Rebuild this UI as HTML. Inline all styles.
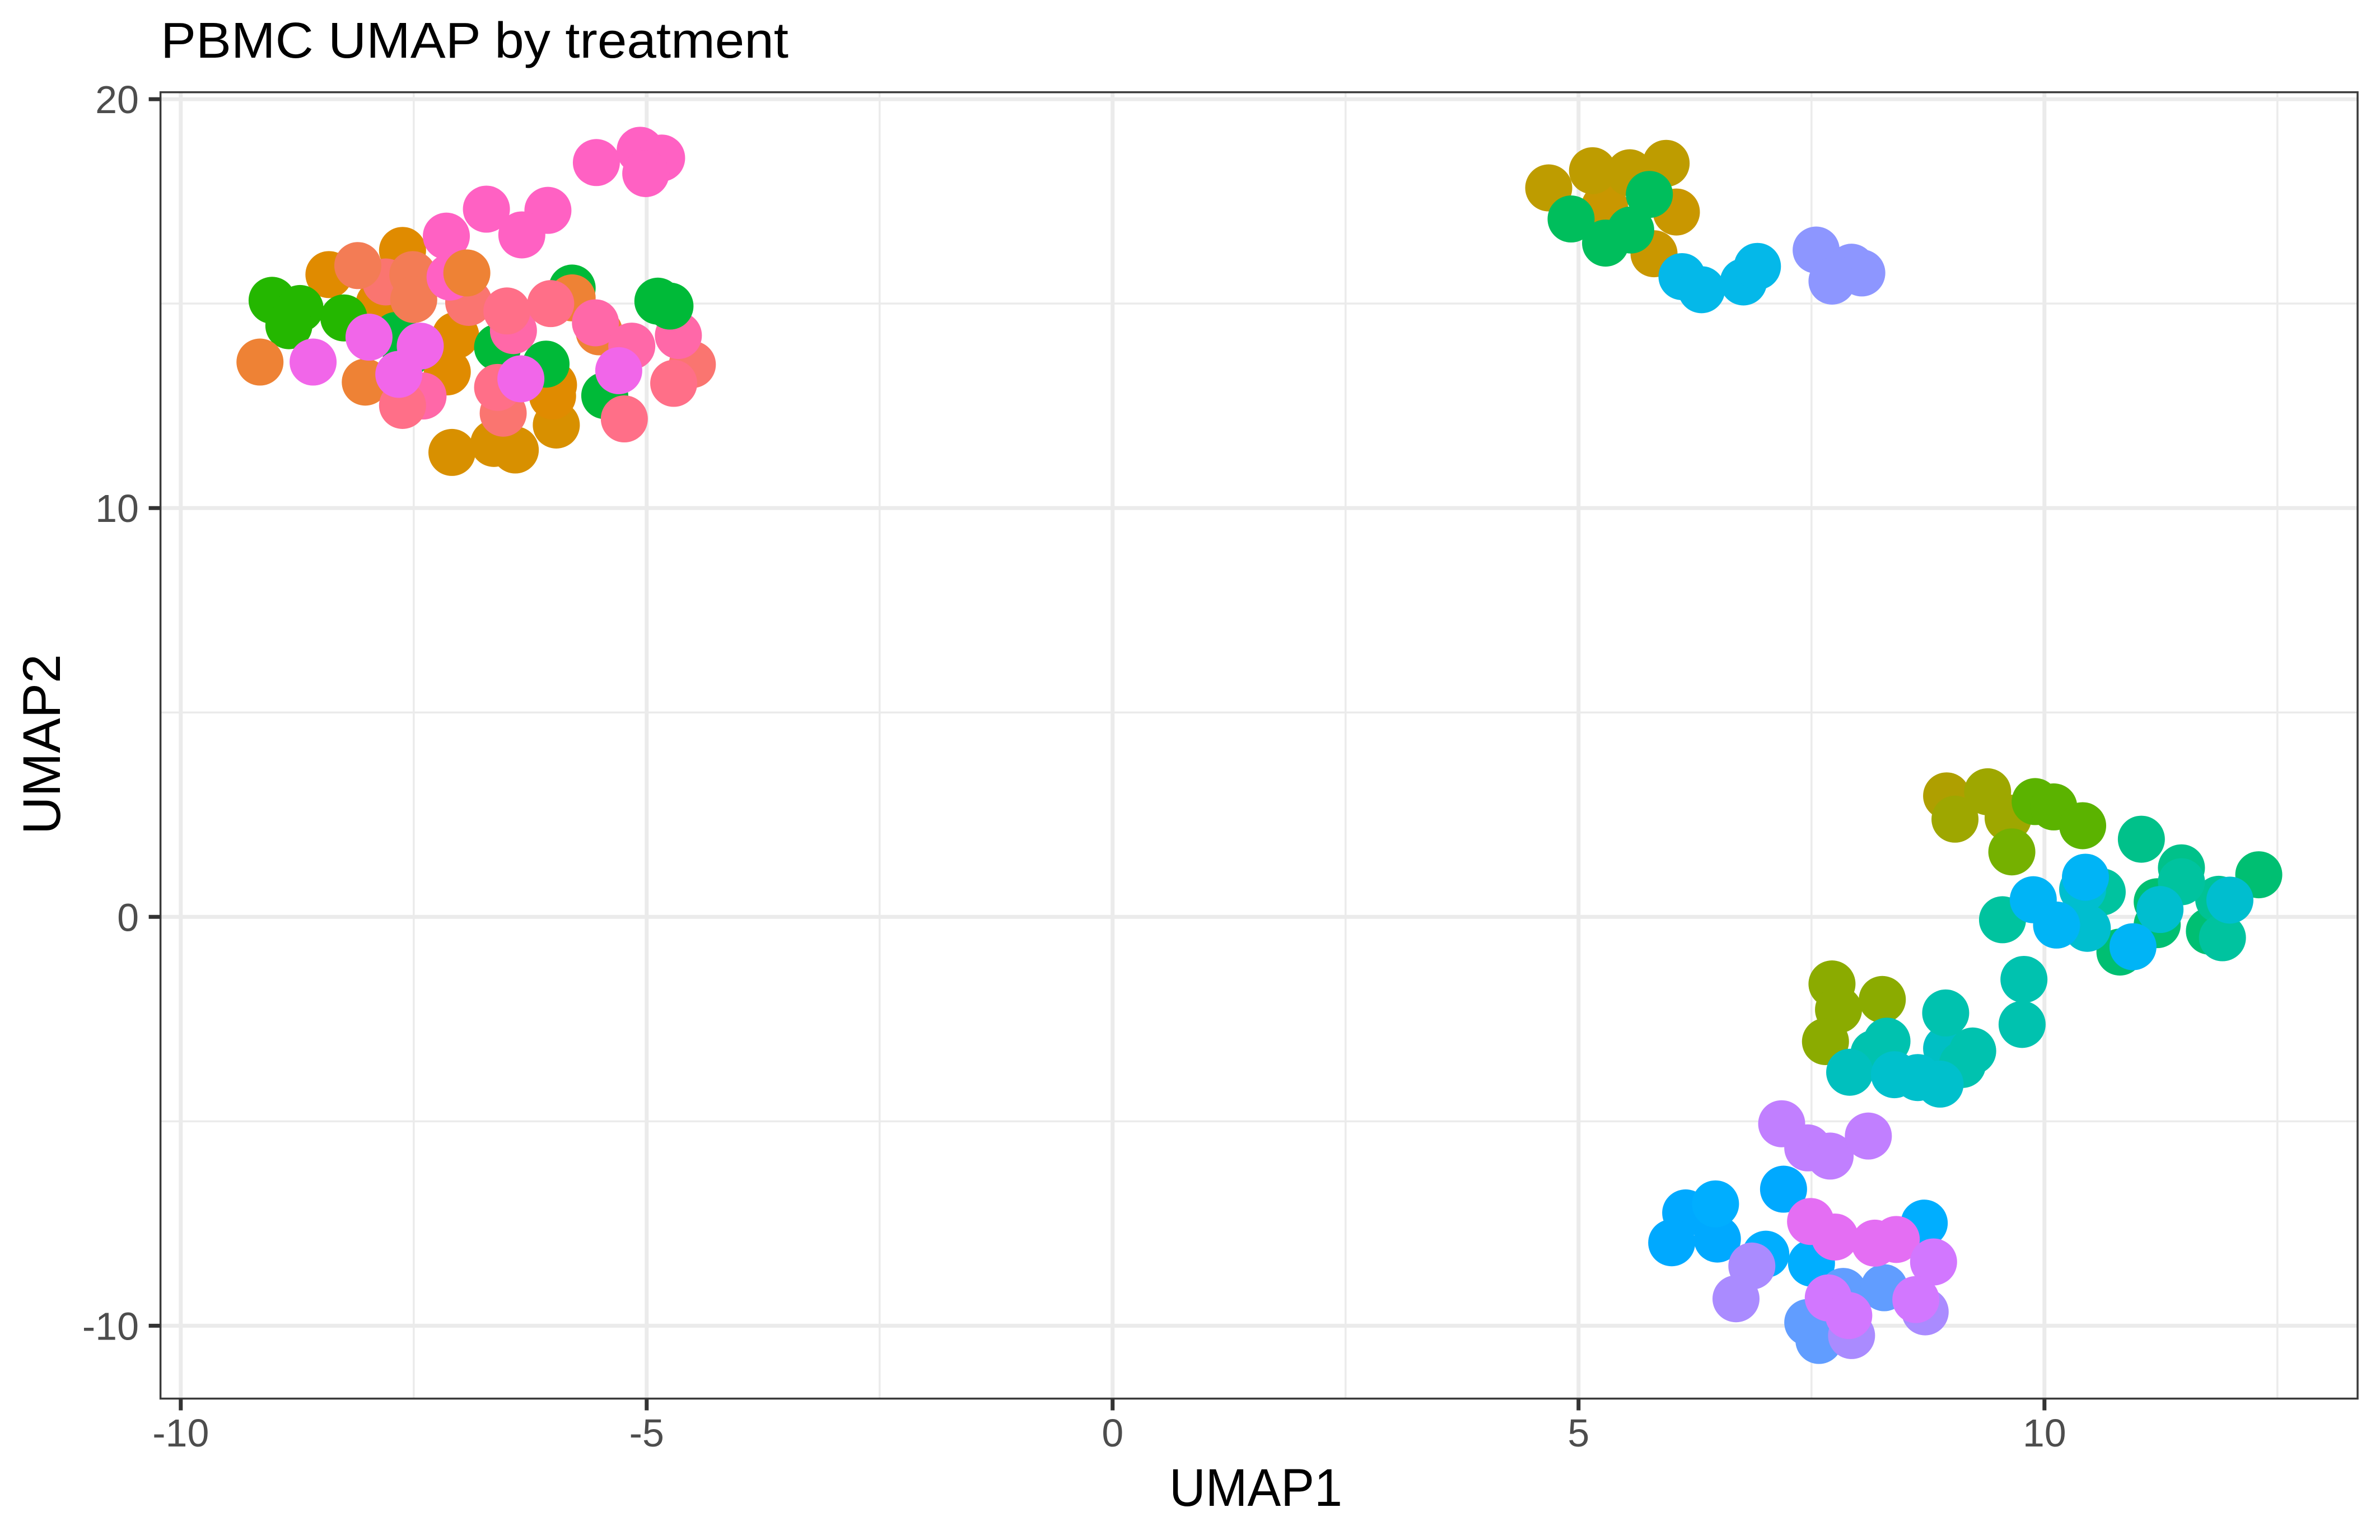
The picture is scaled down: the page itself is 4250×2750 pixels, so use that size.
<!DOCTYPE html>
<html lang="en">
<head>
<meta charset="utf-8">
<title>PBMC UMAP by treatment</title>
<style>
html,body{margin:0;padding:0;background:#fff;}
svg{display:block;font-family:"Liberation Sans",sans-serif;}
</style>
</head>
<body>
<svg id="chart" xmlns="http://www.w3.org/2000/svg" width="4250" height="2750" viewBox="0 0 4250 2750">
  <rect x="0" y="0" width="4250" height="2750" fill="#ffffff"/>
  <text x="287" y="103" font-size="90" fill="#000000" textLength="1121" lengthAdjust="spacingAndGlyphs">PBMC UMAP by treatment</text>
  <g id="grid"></g>
  <g id="points"></g>
  <rect x="286.6" y="164.7" width="3923.4" height="2332.8" fill="none" stroke="#3a3a3a" stroke-width="3.5"/>
  <g id="ticks"></g>
  <text x="2242.5" y="2689" font-size="95" fill="#000000" text-anchor="middle" textLength="309" lengthAdjust="spacingAndGlyphs">UMAP1</text>
  <text transform="translate(107,1329) rotate(-90)" font-size="95" fill="#000000" text-anchor="middle" textLength="322" lengthAdjust="spacingAndGlyphs">UMAP2</text>
</svg>
<script>
const xTickValues = [-10, -5, 0, 5, 10];
const xTickLabels = ["-10", "-5", "0", "5", "10"];
const xMinorValues = [-7.5, -2.5, 2.5, 7.5, 12.5];
const yTickValues = [-10, 0, 10, 20];
const yTickLabels = ["-10", "0", "10", "20"];
const yMinorValues = [-5, 5, 15];

const clusterColors = [
  "#D89000", "#E08B00", "#24B700", "#00BA38", "#FA7570", "#F37C55", "#EE8235", "#FF61C3", "#EE8235",
  "#FF68A8", "#00BA38", "#FF6F88", "#F166E9",
  "#C99700", "#BE9C00", "#00BE5C", "#04B8E9", "#8D96FF",
  "#AF9F00", "#9EA700", "#75B100", "#5BB300", "#00BF72", "#00C18A", "#00C295", "#00C39F", "#00BECF", "#00B4F6",
  "#8BAB00", "#00BFC4", "#00C2AF", "#00C0BE", "#00C0CC",
  "#00A9FF", "#00AEFF", "#619DFF", "#AA8BFF", "#C17FFF", "#E46EF3", "#D277FF"
];

const umap1 = [
  [-7.09, -6.64, -6.41, -5.97],
  [-8.41, -7.62, -7.87, -7.05, -7.14, -6.00, -6.01],
  [-9.02, -8.72, -8.84, -8.25],
  [-7.69, -7.58, -6.60, -5.80, -6.08, -5.45],
  [-7.80, -6.91, -6.54, -4.51],
  [-8.10, -7.51, -7.50],
  [-9.15, -8.02, -5.80, -5.51],
  [-5.54, -5.07, -4.84, -5.01, -6.72, -6.06, -6.34, -7.15, -7.11],
  [-6.93],
  [-7.40, -6.43, -5.55, -5.16, -4.66],
  [-4.88, -4.75],
  [-6.50, -6.03, -4.71, -5.24, -7.62, -6.60],
  [-8.58, -7.98, -7.43, -7.66, -6.35, -5.30],
  [5.28, 6.05, 5.81],
  [4.68, 5.15, 5.55, 5.94],
  [4.92, 5.29, 5.56, 5.76],
  [6.11, 6.32, 6.77, 6.92],
  [7.55, 7.93, 8.04, 7.72],
  [8.95],
  [9.39, 9.61, 9.04],
  [9.65],
  [9.90, 10.10, 10.41],
  [12.30, 11.21, 11.21, 11.77, 10.81],
  [11.04, 11.47],
  [11.87],
  [9.55, 10.62, 11.47, 11.91],
  [10.41, 10.46, 11.24, 11.99],
  [9.88, 10.13, 10.44, 10.95],
  [7.72, 7.79, 8.26, 7.65],
  [8.95],
  [9.78, 9.76, 8.94, 9.12, 9.23, 8.31, 8.17],
  [7.91],
  [8.39, 8.64, 8.88],
  [7.20, 6.15, 6.00, 6.49],
  [6.47, 8.71, 7.01, 7.50],
  [7.84, 8.28, 7.46, 7.58],
  [6.86, 6.69, 7.93, 8.72],
  [7.18, 7.46, 7.70, 8.11],
  [7.49, 7.75, 8.18, 8.41],
  [8.81, 8.62, 7.68, 7.90]
];

const umap2 = [
  [11.36, 11.58, 11.42, 12.03],
  [15.71, 16.30, 15.00, 14.22, 13.33, 13.01, 12.74],
  [15.08, 14.88, 14.46, 14.65],
  [14.22, 13.75, 13.93, 15.38, 13.52, 12.75],
  [15.53, 15.03, 12.32, 13.51],
  [15.93, 15.71, 15.10],
  [13.57, 13.08, 15.14, 14.31],
  [18.45, 18.75, 18.56, 18.18, 17.31, 17.28, 16.68, 16.65, 15.65],
  [15.75],
  [12.74, 14.34, 14.53, 13.96, 14.22],
  [15.06, 14.94],
  [14.82, 15.00, 13.05, 12.18, 12.51, 12.95],
  [13.57, 14.18, 13.96, 13.27, 13.16, 13.36],
  [17.36, 17.24, 16.22],
  [17.83, 18.25, 18.20, 18.43],
  [17.07, 16.48, 16.80, 17.67],
  [15.66, 15.34, 15.53, 15.91],
  [16.31, 15.89, 15.75, 15.55],
  [2.96],
  [3.06, 2.42, 2.39],
  [1.59],
  [2.82, 2.69, 2.23],
  [1.03, 0.37, -0.19, -0.35, -0.86],
  [1.90, 1.20],
  [0.43],
  [-0.07, 0.61, 0.86, -0.51],
  [0.67, -0.28, 0.18, 0.41],
  [0.42, -0.20, 0.97, -0.73],
  [-1.64, -2.27, -2.02, -3.05],
  [-3.22],
  [-1.53, -2.63, -2.35, -3.61, -3.28, -3.04, -3.34],
  [-3.80],
  [-3.86, -3.93, -4.09],
  [-6.66, -7.24, -7.97, -7.88],
  [-7.02, -7.49, -8.25, -8.47],
  [-9.16, -9.07, -9.92, -10.36],
  [-8.54, -9.34, -10.24, -9.66],
  [-5.06, -5.65, -5.85, -5.36],
  [-7.45, -7.83, -7.98, -7.89],
  [-8.44, -9.36, -9.32, -9.75]
];

const SVG_NS = "http://www.w3.org/2000/svg";
const panelLeft = 286.6;
const panelRight = 4210;
const panelTop = 164.7;
const panelBottom = 2497.5;
const pointRadius = 42;

function scaleX(v) { return 1986.8 + v * 166.4; }
function scaleY(v) { return 1637.3 - v * 73.01; }

function makeLine(x1, y1, x2, y2, color, width) {
  const line = document.createElementNS(SVG_NS, "line");
  line.setAttribute("x1", x1);
  line.setAttribute("y1", y1);
  line.setAttribute("x2", x2);
  line.setAttribute("y2", y2);
  line.setAttribute("stroke", color);
  line.setAttribute("stroke-width", width);
  return line;
}

function makeLabel(text, x, y, anchor) {
  const label = document.createElementNS(SVG_NS, "text");
  label.setAttribute("x", x);
  label.setAttribute("y", y);
  label.setAttribute("font-size", "70");
  label.setAttribute("fill", "#4D4D4D");
  label.setAttribute("text-anchor", anchor);
  label.textContent = text;
  return label;
}

const gridGroup = document.getElementById("grid");
const tickGroup = document.getElementById("ticks");
const pointGroup = document.getElementById("points");

xMinorValues.forEach(function (v) {
  const el = makeLine(scaleX(v), panelTop, scaleX(v), panelBottom, "#EBEBEB", 3.5);
  
  
  gridGroup.appendChild(el);
});
yMinorValues.forEach(function (v) {
  const el = makeLine(panelLeft, scaleY(v), panelRight, scaleY(v), "#EBEBEB", 3.5);
  
  
  gridGroup.appendChild(el);
});
xTickValues.forEach(function (v) {
  const el = makeLine(scaleX(v), panelTop, scaleX(v), panelBottom, "#EBEBEB", 7);
  
  
  gridGroup.appendChild(el);
});
yTickValues.forEach(function (v) {
  const el = makeLine(panelLeft, scaleY(v), panelRight, scaleY(v), "#EBEBEB", 7);
  
  
  gridGroup.appendChild(el);
});

xTickValues.forEach(function (v, i) {
  const mark = makeLine(scaleX(v), panelBottom, scaleX(v), panelBottom + 21, "#333333", 7);
  
  
  tickGroup.appendChild(mark);
  const label = makeLabel(xTickLabels[i], scaleX(v), 2583, "middle");
  
  
  tickGroup.appendChild(label);
});
yTickValues.forEach(function (v, i) {
  const mark = makeLine(panelLeft - 21, scaleY(v), panelLeft, scaleY(v), "#333333", 7);
  
  
  tickGroup.appendChild(mark);
  const label = makeLabel(yTickLabels[i], 248, scaleY(v) + 25, "end");
  
  
  tickGroup.appendChild(label);
});

clusterColors.forEach(function (color, c) {
  umap1[c].forEach(function (xValue, i) {
    const dot = document.createElementNS(SVG_NS, "circle");
    dot.setAttribute("cx", scaleX(xValue));
    dot.setAttribute("cy", scaleY(umap2[c][i]));
    dot.setAttribute("r", pointRadius);
    dot.setAttribute("fill", color);
    
    
    pointGroup.appendChild(dot);
  });
});
</script>
</body>
</html>
